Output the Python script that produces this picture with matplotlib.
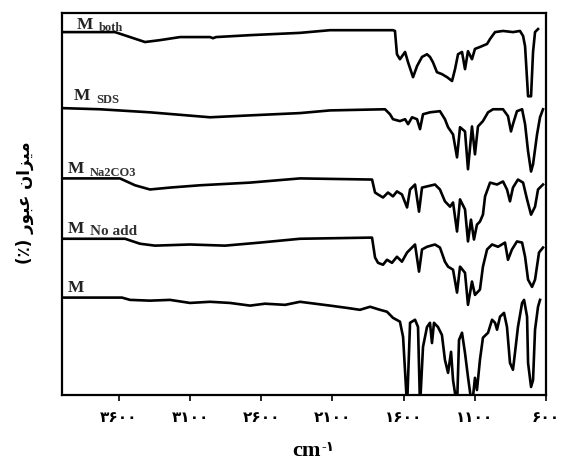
import matplotlib
matplotlib.use("Agg")
import matplotlib.pyplot as plt

# wavenumber (cm-1) and stacked transmittance (arbitrary, 0-100 axis units)
wn_both = [4000, 3628, 3522, 3417, 3311, 3171, 2960, 2939, 2918, 2679, 2328, 2117, 1675, 1661, 1647, 1626, 1590,
           1569, 1534, 1506, 1471, 1436, 1415, 1394, 1366, 1331, 1295, 1260, 1239, 1218, 1190, 1169, 1148, 1120,
           1099, 1064, 1014, 993, 958, 902, 832, 783, 761, 747, 726, 705, 691, 677, 656]
t_both = [95.0, 95.0, 93.7, 92.4, 92.9, 93.7, 93.7, 93.4, 93.7, 94.2, 94.8, 95.5, 95.5, 95.3, 89.2, 87.9, 89.8,
          87.1, 83.2, 86.1, 88.5, 89.2, 88.5, 87.1, 84.5, 84.0, 83.2, 82.2, 85.3, 89.2, 89.8, 85.3, 90.0, 87.9,
          90.6, 91.1, 91.9, 93.2, 95.0, 95.3, 95.0, 95.3, 94.0, 91.3, 78.2, 78.2, 89.8, 95.0, 95.8]

wn_sds = [4000, 3733, 3382, 2960, 2679, 2328, 2117, 1731, 1696, 1675, 1626, 1590, 1569, 1541, 1506, 1485, 1464,
          1415, 1345, 1310, 1288, 1253, 1225, 1204, 1169, 1148, 1120, 1099, 1078, 1043, 1007, 972, 902, 867, 846,
          832, 804, 768, 747, 726, 705, 691, 663, 642, 621]
t_sds = [75.1, 74.8, 74.0, 72.7, 73.2, 73.8, 74.5, 74.8, 73.5, 72.2, 71.7, 72.2, 70.9, 72.7, 72.2, 69.6, 73.5,
         74.0, 74.3, 72.2, 70.1, 68.2, 62.2, 70.1, 69.0, 59.1, 70.3, 63.0, 70.3, 71.7, 74.0, 74.8, 74.8, 73.0, 69.0,
         70.9, 74.3, 74.8, 70.9, 63.8, 58.5, 60.4, 68.2, 72.7, 74.8]

wn_na = [4000, 3593, 3487, 3382, 3241, 3031, 2679, 2328, 1822, 1801, 1780, 1745, 1710, 1675, 1647, 1612, 1576,
         1555, 1520, 1492, 1471, 1436, 1380, 1345, 1310, 1274, 1253, 1225, 1204, 1169, 1148, 1127, 1106, 1085,
         1064, 1043, 1028, 993, 944, 902, 874, 853, 832, 797, 761, 733, 705, 677, 656, 621]
t_na = [56.7, 56.7, 54.9, 53.8, 54.3, 54.9, 55.6, 56.7, 56.4, 53.0, 52.5, 51.7, 53.0, 52.0, 53.3, 52.5, 49.1,
        53.8, 55.1, 48.0, 54.3, 54.6, 55.1, 53.8, 50.7, 49.3, 50.4, 42.8, 51.2, 48.6, 40.2, 45.9, 40.7, 44.6,
        45.4, 47.2, 52.0, 55.6, 55.1, 55.9, 53.8, 50.7, 54.3, 56.4, 55.6, 51.2, 47.2, 49.3, 53.8, 55.1]

wn_noadd = [4000, 3557, 3452, 3347, 3101, 2855, 2609, 2328, 1836, 1822, 1801, 1780, 1745, 1717, 1682, 1647, 1612,
            1576, 1520, 1492, 1471, 1436, 1380, 1345, 1310, 1288, 1253, 1225, 1204, 1169, 1148, 1120, 1099, 1064,
            1043, 1014, 979, 937, 888, 867, 839, 804, 768, 747, 726, 698, 677, 649, 621]
t_noadd = [40.9, 40.9, 39.6, 39.1, 39.4, 39.1, 39.9, 40.9, 41.2, 41.2, 36.0, 34.6, 34.1, 35.4, 34.6, 36.2, 34.9,
           37.3, 39.4, 32.3, 38.1, 38.8, 39.4, 38.6, 34.9, 33.6, 32.8, 26.8, 33.6, 32.0, 23.6, 29.7, 26.2, 27.6,
           33.6, 38.1, 39.4, 38.8, 39.9, 35.4, 38.1, 40.2, 39.9, 36.2, 30.2, 28.3, 30.2, 37.3, 38.6]

wn_m = [4000, 3579, 3522, 3382, 3241, 3101, 2960, 2820, 2679, 2574, 2433, 2328, 2117, 1998, 1907, 1836, 1766,
        1717, 1675, 1626, 1604, 1576, 1555, 1520, 1499, 1485, 1464, 1436, 1415, 1401, 1387, 1359, 1331, 1310,
        1288, 1267, 1253, 1225, 1211, 1190, 1169, 1148, 1120, 1099, 1085, 1064, 1043, 1007, 979, 958, 944, 923,
        895, 874, 853, 832, 818, 797, 768, 754, 733, 726, 705, 691, 677, 656, 642]
t_m = [25.5, 25.5, 24.9, 24.7, 24.9, 24.1, 24.4, 24.1, 23.4, 23.9, 23.6, 24.4, 23.4, 22.8, 22.3, 23.1, 22.3,
       21.8, 20.2, 19.2, 15.2, -3, 18.9, 19.7, 17.8, -3, 12.6, 17.8, 18.9, 13.6, 18.9, 17.8, 15.7, 9.2,
       5.8, 11.3, 3.9, -3, 14.4, 16.3, 11.0, 4.7, -3, 4.5, 1.3, 9.2, 15.0, 16.3, 19.7, 18.9, 17.1, 20.5,
       21.5, 17.8, 8.4, 6.6, 11.0, 17.8, 24.1, 24.9, 20.5, 8.4, 2.1, 3.9, 17.1, 23.1, 24.9]

# label name, suffix, label anchor (wavenumber, value)
names = ["M", "M", "M", "M", "M"]
suffixes = ["both", "SDS", "Na2CO3", "No add", ""]
label_wn = [3895, 3916, 3958, 3958, 3958]
label_t = [96.1, 77.4, 58.3, 42.8, 27.3]

ticks = [3600, 3100, 2600, 2100, 1600, 1100, 600]
fa_digits = str.maketrans("0123456789", "۰۱۲۳۴۵۶۷۸۹")
tick_labels = [str(t).translate(fa_digits) for t in ticks]

serif = ["Liberation Serif", "DejaVu Serif"]
arab = ["DejaVu Sans"]

fig = plt.figure(figsize=(5.68, 4.64), dpi=100)
ax = fig.add_axes([62 / 568, 68 / 464, 484 / 568, 382 / 464])

for wn, t in [(wn_both, t_both), (wn_sds, t_sds), (wn_na, t_na), (wn_noadd, t_noadd), (wn_m, t_m)]:
    ax.plot(wn, t, color="black", lw=1.9, solid_joinstyle="round")

ax.set_xlim(4000, 600)
ax.set_ylim(0, 100)
ax.set_yticks([])
ax.set_xticks(ticks)
ax.set_xticklabels(tick_labels, fontfamily=arab, fontweight="bold", fontsize=11)
ax.tick_params(axis="x", direction="out", length=4, width=1.2, pad=6)
for s in ax.spines.values():
    s.set_linewidth(1.6)

for n, suf, x, y in zip(names, suffixes, label_wn, label_t):
    tm = ax.text(x, y, n, fontfamily=serif, fontweight="bold", fontsize=12.5, color="#222222", va="baseline")
    if suf:
        size = 11 if suf == "No add" else 9
        ax.annotate(suf, xy=(1, 0), xycoords=tm, xytext=(4, -1), textcoords="offset points",
                    fontfamily=serif, fontweight="bold", fontsize=size, color="#333333", va="bottom")

# y label, Persian, pre-shaped in visual order
ylab = "(٪) " + "\uFEAD\uFEEE\uFE92\uFECB" + " " + "\uFEE5\uFE8D\uFEB0\uFEF4\uFEE3"
fig.text(25 / 568, 1 - 203 / 464, ylab, rotation=90, ha="center", va="center",
         fontfamily=arab, fontweight="bold", fontsize=12)

cm = fig.text(292 / 568, 8 / 464, "cm", fontfamily=serif, fontweight="bold", fontsize=16, va="baseline")
ax.annotate("-۱", xy=(1, 1), xycoords=cm, xytext=(1, 0), textcoords="offset points",
            fontfamily=["Liberation Serif", "DejaVu Sans"], fontweight="bold", fontsize=10, va="top")

fig.savefig("out.png", dpi=100)
